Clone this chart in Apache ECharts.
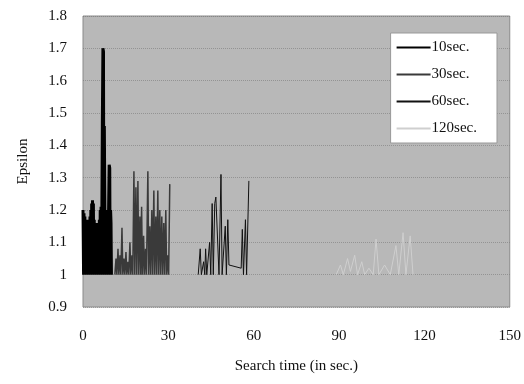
<!DOCTYPE html>
<html>
<head>
<meta charset="utf-8">
<script src="https://cdn.jsdelivr.net/npm/echarts@6/dist/echarts.min.js"></script>
<style>
  html, body { margin: 0; padding: 0; background: #fff; }
  #chart { width: 524px; height: 384px; }
</style>
</head>
<body>
<div id="chart"></div>
<script>
// [time (sec), epsilon] per search-time limit
const run10 = [
  [0, 1.2], [0.2, 1.0], [0.35, 1.19], [0.5, 1.0], [0.65, 1.18], [0.8, 1.0], [0.95, 1.17], [1.1, 1.0],
  [1.25, 1.16], [1.4, 1.0], [1.55, 1.17], [1.7, 1.0], [1.85, 1.15], [2.0, 1.0], [2.15, 1.16], [2.3, 1.0],
  [2.45, 1.18], [2.6, 1.0], [2.75, 1.2], [2.9, 1.0], [3.05, 1.22], [3.2, 1.0], [3.35, 1.23], [3.5, 1.0],
  [3.65, 1.22], [3.8, 1.0], [3.95, 1.17], [4.1, 1.0], [4.25, 1.16], [4.4, 1.0], [4.55, 1.15], [4.7, 1.0],
  [4.85, 1.16], [5.0, 1.0], [5.15, 1.15], [5.3, 1.0], [5.45, 1.16], [5.6, 1.0], [5.75, 1.17], [5.9, 1.0],
  [6.05, 1.2], [6.2, 1.0], [6.35, 1.21], [6.5, 1.0], [6.65, 1.22], [6.8, 1.47], [7.0, 1.7], [7.2, 1.69],
  [7.35, 1.0], [7.5, 1.46], [7.65, 1.25], [7.8, 1.0], [7.95, 1.2], [8.1, 1.0], [8.25, 1.18], [8.4, 1.0],
  [8.55, 1.15], [8.7, 1.0], [9.0, 1.0], [9.2, 1.34], [9.4, 1.33], [9.55, 1.0], [9.7, 1.2], [9.85, 1.16],
  [10.0, 1.0]
]
const run30 = [
  [11.2, 1.0], [11.6, 1.05], [11.9, 1.0], [12.3, 1.08], [12.6, 1.0], [13.0, 1.06], [13.3, 1.0],
  [13.7, 1.145], [14.0, 1.0], [14.4, 1.05], [14.7, 1.0], [15.1, 1.07], [15.4, 1.0], [15.8, 1.04],
  [16.1, 1.0], [16.5, 1.1], [16.8, 1.0], [17.2, 1.06], [17.5, 1.0], [17.9, 1.32], [18.2, 1.0],
  [18.6, 1.27], [18.9, 1.0], [19.3, 1.29], [19.6, 1.0], [20.0, 1.18], [20.3, 1.0], [20.6, 1.21],
  [20.9, 1.0], [21.3, 1.12], [21.6, 1.0], [22.0, 1.08], [22.3, 1.0], [22.8, 1.32], [23.1, 1.0],
  [23.5, 1.15], [23.8, 1.0], [24.2, 1.2], [24.5, 1.0], [24.9, 1.26], [25.2, 1.0], [25.6, 1.18],
  [25.9, 1.0], [26.3, 1.26], [26.6, 1.0], [27.0, 1.2], [27.3, 1.0], [27.7, 1.18], [28.0, 1.0],
  [28.4, 1.16], [28.7, 1.0], [29.1, 1.2], [29.4, 1.0], [29.8, 1.06], [30.1, 1.0], [30.5, 1.28]
]
const run60 = [
  [40.5, 1.0], [41.2, 1.08], [41.6, 1.0], [42.4, 1.04], [42.8, 1.0], [43.1, 1.08], [43.5, 1.0],
  [44.5, 1.1], [44.9, 1.0], [45.4, 1.22], [45.8, 1.0], [46.3, 1.22], [46.7, 1.24], [47.8, 1.0],
  [48.5, 1.31], [48.9, 1.0], [50.0, 1.15], [50.4, 1.0], [50.9, 1.17], [51.3, 1.03], [55.6, 1.02],
  [56.0, 1.14], [56.4, 1.0], [57.1, 1.17], [57.5, 1.0], [58.3, 1.29]
]
const run120 = [
  [89, 1.0], [90.5, 1.03], [91.5, 1.0], [93, 1.05], [94, 1.01], [95.5, 1.06], [96.5, 1.0],
  [98, 1.04], [99, 1.0], [100.5, 1.02], [102, 1.0], [103, 1.11], [104, 1.0], [106, 1.03],
  [108, 1.0], [110, 1.09], [111, 1.0], [112.5, 1.13], [113.5, 1.0], [115, 1.12], [116, 1.0]
]
const xTicks = [0, 30, 60, 90, 120, 150]

const serif = '"Liberation Serif", "Times New Roman", serif'
const chart = echarts.init(document.getElementById('chart'))

const line = (name, data, color, width) => ({
  name,
  type: 'line',
  data,
  symbol: 'none',
  animation: false,
  lineStyle: { color, width },
  itemStyle: { color }
})

chart.setOption({
  backgroundColor: '#fff',
  textStyle: { fontFamily: serif },
  grid: {
    left: 83, right: 13, top: 16, bottom: 77,
    show: true,
    backgroundColor: '#b8b8b8',
    borderColor: '#8a8a8a',
    borderWidth: 1
  },
  legend: {
    orient: 'vertical',
    right: 27,
    top: 33,
    backgroundColor: '#fff',
    borderColor: '#999',
    borderWidth: 1,
    padding: [7, 20, 7, 5],
    itemWidth: 34,
    itemHeight: 10,
    itemGap: 12,
    itemStyle: { opacity: 0 },
    textStyle: { fontFamily: serif, fontSize: 15, color: '#111', padding: [0, 0, 0, -4] }
  },
  xAxis: {
    type: 'value',
    min: 0, max: 150, interval: 30,
    name: 'Search time (in sec.)',
    nameLocation: 'middle',
    nameGap: 52,
    nameTextStyle: { fontFamily: serif, fontSize: 15, color: '#111' },
    axisLine: { show: false },
    axisTick: { show: false },
    splitLine: { show: false },
    axisLabel: {
      fontFamily: serif, fontSize: 15, color: '#111', margin: 22,
      formatter: v => xTicks.includes(v) ? String(v) : ''
    }
  },
  yAxis: {
    type: 'value',
    min: 0.9, max: 1.8, interval: 0.1,
    name: 'Epsilon',
    nameLocation: 'middle',
    nameGap: 52,
    nameTextStyle: { fontFamily: serif, fontSize: 15, color: '#111' },
    axisLine: { show: false },
    axisTick: { show: false },
    splitLine: { show: true, lineStyle: { color: '#6e6e6e', type: 'dotted', width: 1, opacity: 0.5 } },
    axisLabel: {
      fontFamily: serif, fontSize: 15, color: '#111', margin: 16,
      formatter: v => (Math.round(v * 10) / 10).toString()
    }
  },
  series: [
    line('10sec.', run10, '#000', 3),
    line('30sec.', run30, '#3a3a3a', 1.5),
    line('60sec.', run60, '#111', 1),
    line('120sec.', run120, '#cfcfcf', 1)
  ]
})
</script>
</body>
</html>
